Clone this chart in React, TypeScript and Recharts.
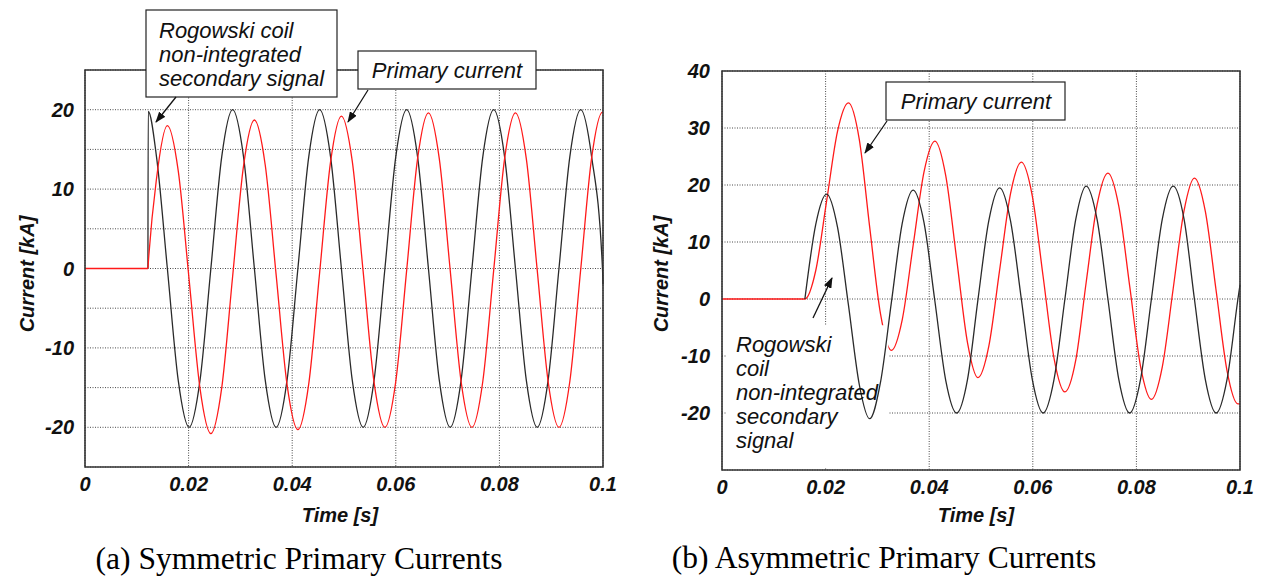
import React from 'react';
import { LineChart, Line, XAxis, YAxis, CartesianGrid, ReferenceArea } from 'recharts';

// ---------- axis ticks ----------
const timeTicks = [0, 0.02, 0.04, 0.06, 0.08, 0.1];
const symYTicks = [-20, -15, -10, -5, 0, 5, 10, 15, 20];
const asymYTicks = [-20, -10, 0, 10, 20, 30, 40];

// ---------- (a) symmetric ----------
const symTime = [
  0, 0.01215, 0.0122,
  0.0138, 0.0159, 0.018, 0.0201, 0.0222, 0.0243, 0.0264, 0.0285,
  0.0306, 0.0327, 0.0348, 0.0369, 0.039, 0.0411, 0.0432, 0.0453,
  0.0474, 0.0495, 0.0516, 0.0537, 0.0558, 0.0579, 0.06, 0.0621,
  0.0642, 0.0663, 0.0684, 0.0705, 0.0726, 0.0747, 0.0768, 0.0789,
  0.081, 0.0831, 0.0852, 0.0873, 0.0894, 0.0915, 0.0936, 0.0957,
  0.0978, 0.0999, 0.1,
];
const symRogowski: (number | null)[] = [
  null, 0, 19.8,
  14.1, 0, -14.1, -20, -14.1, 0, 14.1, 20,
  14.1, 0, -14.1, -20, -14.1, 0, 14.1, 20,
  14.1, 0, -14.1, -20, -14.1, 0, 14.1, 20,
  14.1, 0, -14.1, -20, -14.1, 0, 14.1, 20,
  14.1, 0, -14.1, -20, -14.1, 0, 14.1, 20,
  14.1, 0, -2,
];
const symPrimary = [
  0, 0, 0.5,
  11.3, 18.0, 12.3, -1.4, -15.1, -20.8, -15.0, -1.0,
  12.9, 18.7, 13.0, -0.8, -14.6, -20.3, -14.5, -0.5,
  13.4, 19.2, 13.5, -0.4, -14.3, -20.0, -14.2, -0.2,
  13.8, 19.6, 13.8, -0.2, -14.2, -20.0, -14.2, -0.2,
  13.8, 19.6, 13.8, -0.2, -14.2, -20.0, -14.2, -0.1,
  13.9, 19.7, 19.7,
];

// ---------- (b) asymmetric ----------
const asymTime = [
  0,
  0.016, 0.0181, 0.0202, 0.0223, 0.0244, 0.0265, 0.0285, 0.0306, 0.0327,
  0.0348, 0.0369, 0.039, 0.0411, 0.0432, 0.0453, 0.0474, 0.0494,
  0.0515, 0.0536, 0.0557, 0.0578, 0.0599, 0.062, 0.0641, 0.0662,
  0.0683, 0.0703, 0.0724, 0.0745, 0.0766, 0.0787, 0.0808, 0.0829,
  0.085, 0.0871, 0.0892, 0.0912, 0.0933, 0.0954, 0.0975, 0.0996,
  0.1,
];
const asymRogowski: (number | null)[] = [
  null,
  0, 13.1, 18.4, 12.6, -1.0, -15.0, -21.0, -14.6, -0.6,
  13.3, 19.1, 13.4, -0.4, -14.3, -20.0, -14.1, -0.2,
  13.7, 19.5, 13.7, -0.1, -14.1, -20.0, -14.1, 0,
  14.0, 19.8, 14.0, 0, -14.1, -20.0, -14.1, 0,
  14.0, 19.8, 14.0, 0, -14.1, -20.0, -14.1, 0,
  2.5,
];
const asymPrimary = [
  0,
  0, 5.0, 17.2, 29.4, 34.4, 28.0, 12.7, -2.6, -9.0,
  -3.6, 9.4, 22.3, 27.7, 21.6, 7.0, -7.7, -13.8,
  -8.3, 5.1, 18.5, 24.0, 18.1, 3.9, -10.4, -16.3,
  -10.7, 2.9, 16.5, 22.1, 16.3, 2.3, -11.8, -17.6,
  -11.9, 1.8, 15.5, 21.2, 15.4, 1.4, -12.6, -18.4,
  -18.4,
];

const symData = symTime.map((t, i) => ({ t, rogowski: symRogowski[i], primary: symPrimary[i] }));
const asymData = asymTime.map((t, i) => ({ t, rogowski: asymRogowski[i], primary: asymPrimary[i] }));

const SANS = "'Liberation Sans', Arial, sans-serif";
const SERIF = "'Liberation Serif', 'Times New Roman', serif";
const tickStyle = { fill: '#111', fontSize: 20, fontStyle: 'italic', fontWeight: 'bold', fontFamily: SANS };
const BLACK = '#2a2a2a';
const RED = '#ff1a1a';
const GRID = '#4a4a4a';

const fmtTime = (v: number) => String(v);
const fmtTen = (v: number) => (v % 10 === 0 ? String(v) : '');

export default function App() {
  return (
    <div style={{ position: 'absolute', left: 0, top: 0, width: 1263, height: 577, background: '#fff', overflow: 'hidden' }}>
      {/* (a) Symmetric */}
      <div style={{ position: 'absolute', left: 0, top: 0 }}>
        <LineChart width={631} height={577} data={symData} margin={{ top: 70, right: 28, bottom: 70, left: 25 }}>
          <CartesianGrid stroke={GRID} strokeDasharray="1 1.5" />
          <XAxis type="number" dataKey="t" domain={[0, 0.1]} ticks={timeTicks} interval={0} tickFormatter={fmtTime}
            axisLine={false} tickLine={false} tickSize={8} tickMargin={2} height={40} tick={tickStyle} />
          <YAxis type="number" domain={[-25, 25]} ticks={symYTicks} interval={0} tickFormatter={fmtTen}
            axisLine={false} tickLine={false} tickSize={9} tickMargin={2} width={60} tick={tickStyle} />
          <Line type="monotone" dataKey="rogowski" stroke={BLACK} strokeWidth={1.3} dot={false} isAnimationActive={false} zIndex={400} />
          <Line type="monotone" dataKey="primary" stroke={RED} strokeWidth={1.3} dot={false} isAnimationActive={false} zIndex={450} />
          <ReferenceArea x1={0} x2={0.1} y1={-25} y2={25} fill="none" fillOpacity={0} stroke="#333" strokeWidth={1.6} zIndex={600} />
        </LineChart>
      </div>

      {/* (b) Asymmetric */}
      <div style={{ position: 'absolute', left: 631, top: 0 }}>
        <LineChart width={632} height={577} data={asymData} margin={{ top: 71, right: 23, bottom: 67, left: 31 }}>
          <CartesianGrid stroke={GRID} strokeDasharray="1 1.5" />
          <XAxis type="number" dataKey="t" domain={[0, 0.1]} ticks={timeTicks} interval={0} tickFormatter={fmtTime}
            axisLine={false} tickLine={false} tickSize={8} tickMargin={2} height={40} tick={tickStyle} />
          <YAxis type="number" domain={[-30, 40]} ticks={asymYTicks} interval={0}
            axisLine={false} tickLine={false} tickSize={10} tickMargin={2} width={60} tick={tickStyle} />
          <Line type="monotone" dataKey="primary" stroke={RED} strokeWidth={1.3} dot={false} isAnimationActive={false} zIndex={400} />
          <ReferenceArea x1={0.0008} x2={0.0321} y1={-29.6} y2={-4.6} fill="#fff" fillOpacity={1} stroke="none" zIndex={450} />
          <Line type="monotone" dataKey="rogowski" stroke={BLACK} strokeWidth={1.3} dot={false} isAnimationActive={false} zIndex={500} />
          <ReferenceArea x1={0} x2={0.1} y1={-30} y2={40} fill="none" fillOpacity={0} stroke="#333" strokeWidth={1.6} zIndex={600} />
        </LineChart>
      </div>

      {/* annotations, axis titles, captions */}
      <svg width={1263} height={577} style={{ position: 'absolute', left: 0, top: 0, pointerEvents: 'none' }}>
        <defs>
          <marker id="ah" markerWidth={11} markerHeight={8} refX={10} refY={4} orient="auto" markerUnits="userSpaceOnUse">
            <path d="M0,0 L11,4 L0,8 z" fill="#111" />
          </marker>
        </defs>

        {/* axis titles */}
        <g fontFamily={SANS} fontSize={20} fontStyle="italic" fontWeight="bold" fill="#111">
          <text x={27} y={274} textAnchor="middle" dominantBaseline="central" transform="rotate(-90 27 274)">Current [kA]</text>
          <text x={340} y={515} textAnchor="middle" dominantBaseline="central">Time [s]</text>
          <text x={661} y={274} textAnchor="middle" dominantBaseline="central" transform="rotate(-90 661 274)">Current [kA]</text>
          <text x={976} y={515} textAnchor="middle" dominantBaseline="central">Time [s]</text>
        </g>

        {/* left annotations */}
        <rect x={146} y={10} width={191} height={87} fill="#fff" stroke="#222" strokeWidth={1.2} />
        <rect x={358} y={51} width={178} height={38} fill="#fff" stroke="#222" strokeWidth={1.2} />
        <g fontFamily={SANS} fontSize={22} fontStyle="italic" fill="#111">
          <text x={159} y={37.5}>Rogowski coil</text>
          <text x={159} y={61.5}>non-integrated</text>
          <text x={159} y={85.5}>secondary signal</text>
          <text x={447} y={78} textAnchor="middle">Primary current</text>
        </g>
        <line x1={176} y1={97} x2={156} y2={122} stroke="#111" strokeWidth={1.3} markerEnd="url(#ah)" />
        <line x1={368} y1={90} x2={348} y2={122} stroke="#111" strokeWidth={1.3} markerEnd="url(#ah)" />

        {/* right annotations */}
        <rect x={886} y={82} width={179} height={38} fill="#fff" stroke="#222" strokeWidth={1.2} />
        <g fontFamily={SANS} fontSize={22} fontStyle="italic" fill="#111">
          <text x={976} y={109} textAnchor="middle">Primary current</text>
          <text x={736} y={352}>Rogowski</text>
          <text x={736} y={376}>coil</text>
          <text x={736} y={400}>non-integrated</text>
          <text x={736} y={424}>secondary</text>
          <text x={736} y={448}>signal</text>
        </g>
        <line x1={887} y1={121} x2={865} y2={153} stroke="#111" strokeWidth={1.3} markerEnd="url(#ah)" />
        <line x1={813} y1={318} x2={832} y2={278} stroke="#111" strokeWidth={1.3} markerEnd="url(#ah)" />

        {/* captions */}
        <g fontFamily={SERIF} fontSize={31.5} fill="#000">
          <text x={299} y={569} textAnchor="middle">(a) Symmetric Primary Currents</text>
          <text x={884} y={568} textAnchor="middle">(b) Asymmetric Primary Currents</text>
        </g>
      </svg>
    </div>
  );
}
